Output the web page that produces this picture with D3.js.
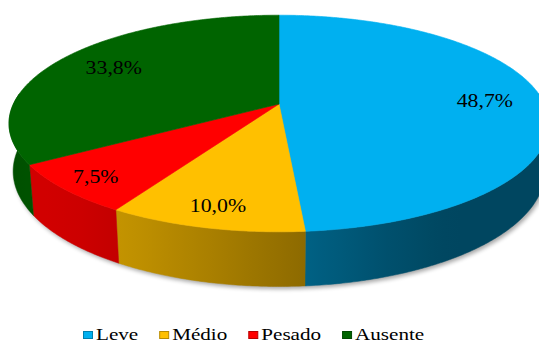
<!DOCTYPE html>
<html>
<head>
<meta charset="utf-8">
<script src="https://cdn.jsdelivr.net/npm/d3@7"></script>
<style>
  html, body { margin: 0; padding: 0; background: #ffffff; }
  svg { display: block; }
  svg text { font-family: "Liberation Serif", "Times New Roman", Times, serif; }
</style>
</head>
<body>
<svg id="chart" width="539" height="342"></svg>
<script>
// ---- data ----
const categories = ["Leve", "Médio", "Pesado", "Ausente"];
const values = [48.7, 10.0, 7.5, 33.8];
const colors = ["#00B0F0", "#FFC000", "#FF0000", "#006400"];

// ---- layout of the tilted (perspective) pie ----
const cx = 279, cy = 104;       // projected centre of the top face
const A = 265.6;                // horizontal scale of the radius
const B = 104.8;                // vertical scale of the radius (tilt)
const C = 244;                  // vertical scale of the thickness
const k = 0.18;                 // perspective strength
const kt = k * B / C;           // perspective term for the thickness
const thick = 0.195;            // slab thickness, in radius units
const labelRadius = [0.78, 0.85, 0.87, 0.76];

const svg = d3.select("#chart");
const defs = svg.append("defs");

// project a point given by angle (clockwise from 12 o'clock), radius fraction and height
function proj(theta, r, t) {
  const u = r * Math.sin(theta), w = r * Math.cos(theta);
  const depth = 1 + k * w - kt * t;
  return [cx + A * u / depth, cy - (C * t + B * w) / depth];
}
function arcPts(a0, a1, r, t) {
  const n = Math.max(2, Math.ceil(Math.abs(a1 - a0) / (Math.PI / 360)));
  return d3.range(n + 1).map(i => proj(a0 + (a1 - a0) * i / n, r, t));
}
const line = d3.line();

// side lighting as a function of the wall direction
function shade(theta) {
  const c = Math.max(0, Math.cos(theta - 235 * Math.PI / 180));
  return 0.4 + 0.42 * Math.pow(c, 1.5);
}
function scaleColor(col, f) {
  const c = d3.rgb(col);
  return d3.rgb(c.r * f, c.g * f, c.b * f).formatHex();
}

const arcs = d3.pie().sort(null).value(d => d)(values);

// soft drop shadow under the slab
const blur = defs.append("filter").attr("id", "shadowBlur")
  .attr("x", "-10%").attr("y", "-10%").attr("width", "120%").attr("height", "130%");
blur.append("feGaussianBlur").attr("stdDeviation", 2.2);

const bottomOutline = arcPts(0, 2 * Math.PI, 1, -thick);
svg.append("path")
  .attr("d", line(bottomOutline) + "Z")
  .attr("transform", "translate(2,2.5)")
  .attr("fill", "#000")
  .attr("opacity", 0.35)
  .attr("filter", "url(#shadowBlur)");

// gradient geometry along the visible front wall
const silA = Math.acos(-k);           // right silhouette angle
const silB = 2 * Math.PI - silA;      // left silhouette angle
const xRight = proj(silA, 1, 0)[0];
const xLeft = proj(silB, 1, 0)[0];

arcs.forEach((a, i) => {
  const g = defs.append("linearGradient")
    .attr("id", "wall" + i)
    .attr("gradientUnits", "userSpaceOnUse")
    .attr("x1", xRight).attr("x2", xLeft)
    .attr("y1", 0).attr("y2", 0);
  const steps = 40;
  for (let s = 0; s <= steps; s++) {
    const th = silA + (silB - silA) * s / steps;
    const x = proj(th, 1, 0)[0];
    g.append("stop")
      .attr("offset", Math.min(1, Math.max(0, (x - xRight) / (xLeft - xRight))))
      .attr("stop-color", scaleColor(colors[i], shade(th)));
  }
});

// outer walls (front half only)
const wallG = svg.append("g");
arcs.forEach((a, i) => {
  const s = Math.max(a.startAngle, Math.PI / 2 - 0.1);
  const e = Math.min(a.endAngle, 3 * Math.PI / 2 + 0.1);
  if (e <= s) return;
  const pts = arcPts(s, e, 1, 0).concat(arcPts(e, s, 1, -thick));
  wallG.append("path")
    .attr("d", line(pts) + "Z")
    .attr("fill", `url(#wall${i})`)
    .attr("stroke", `url(#wall${i})`)
    .attr("stroke-width", 0.5);
});

// top faces
const topG = svg.append("g");
arcs.forEach((a, i) => {
  const pts = [proj(0, 0, 0)].concat(arcPts(a.startAngle, a.endAngle, 1, 0));
  topG.append("path")
    .attr("d", line(pts) + "Z")
    .attr("fill", colors[i])
    .attr("stroke", colors[i])
    .attr("stroke-width", 0.6)
    .attr("stroke-linejoin", "round");
});

// value labels
const fmt = v => d3.format(".1f")(v).replace(".", ",") + "%";
arcs.forEach((a, i) => {
  const mid = (a.startAngle + a.endAngle) / 2;
  const p = proj(mid, labelRadius[i], 0);
  svg.append("g")
    .attr("transform", `translate(${p[0]},${p[1]}) scale(1.18,1)`)
    .append("text")
    .attr("y", 6.2)
    .attr("text-anchor", "middle")
    .attr("font-size", 18.5)
    .attr("fill", "#000")
    .text(fmt(values[i]));
});

// legend
const legend = svg.append("g");
let lx = 83;
const legendBase = 339.5, sx = 1.32;
categories.forEach((c, i) => {
  const base = d3.color(colors[i]);
  legend.append("rect")
    .attr("x", lx + 0.5).attr("y", 331.5)
    .attr("width", 9).attr("height", 7)
    .attr("fill", colors[i])
    .attr("stroke", base.darker(0.9).formatHex())
    .attr("stroke-width", 1);
  const tg = legend.append("g")
    .attr("transform", `translate(${lx + 13},${legendBase}) scale(${sx},1)`);
  const t = tg.append("text")
    .attr("font-size", 16)
    .attr("fill", "#000")
    .text(c);
  const w = t.node().getComputedTextLength() * sx;
  lx += 13 + w + 21;
});
</script>
</body>
</html>
